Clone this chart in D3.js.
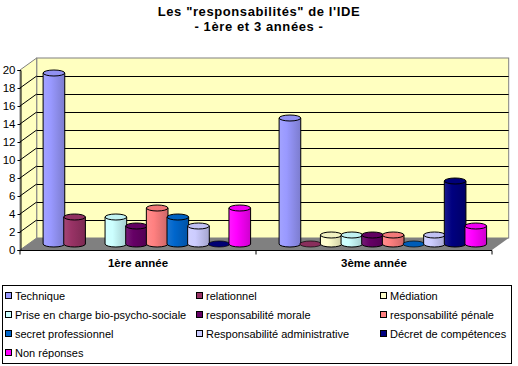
<!DOCTYPE html>
<html>
<head>
<meta charset="utf-8">
<script src="https://cdn.jsdelivr.net/npm/d3@7"></script>
<style>
  body { margin: 0; background: #fff; }
  text { font-family: Arial, "Liberation Sans", sans-serif; }
</style>
</head>
<body>
<div id="chart"></div>
<script>
// data
var groups = ["1ère année", "3ème année"];
var series = ["Technique", "relationnel", "Médiation", "Prise en charge bio-psycho-sociale",
  "responsabilité morale", "responsabilité pénale", "secret professionnel",
  "Responsabilité administrative", "Décret de compétences", "Non réponses"];
var colors = ["#9999FF", "#993366", "#FFFFCC", "#CCFFFF", "#660066",
  "#FF8080", "#0066CC", "#CCCCFF", "#000080", "#FF00FF"];
var values1ere = [19, 3, null, 3, 2, 4, 3, 2, 0, 4];
var values3eme = [14, 0, 1, 1, 1, 1, 0, 1, 7, 2];
var yTicks = [0, 2, 4, 6, 8, 10, 12, 14, 16, 18, 20];

var W = 518, H = 366;
var depthX = 16.7, depthY = -12;   // 3d depth of the plot
var plotLeft = 20, plotRight = 492, plotBottom = 250, plotTop = 70;

var svg = d3.select("#chart").append("svg")
    .attr("width", W)
    .attr("height", H);

// title
svg.append("text").attr("x", 259).attr("y", 16)
    .attr("text-anchor", "middle").attr("font-size", 13).attr("font-weight", "bold")
    .attr("letter-spacing", 0.6)
    .text('Les "responsabilités" de l\'IDE');
svg.append("text").attr("x", 259).attr("y", 31)
    .attr("text-anchor", "middle").attr("font-size", 13).attr("font-weight", "bold")
    .attr("letter-spacing", 0.6)
    .text("- 1ère et 3 années -");

var y = d3.scaleLinear().domain([0, 20]).range([plotBottom, plotTop]);
var x0 = d3.scaleBand().domain(groups).range([plotLeft, plotRight])
    .paddingInner(0.125).paddingOuter(0.0625);
var x1 = d3.scaleBand().domain(series).range([0, x0.bandwidth()]);

var wallFill = "#FFFFC0", edge = "#808080";

// back wall
svg.append("rect")
    .attr("x", plotLeft + depthX).attr("y", y(20) + depthY)
    .attr("width", plotRight - plotLeft).attr("height", y(0) - y(20))
    .attr("fill", wallFill).attr("stroke", edge);

// side wall
svg.append("polygon")
    .attr("points", [[plotLeft, y(20)], [plotLeft + depthX, y(20) + depthY],
      [plotLeft + depthX, y(0) + depthY], [plotLeft, y(0)]].join(" "))
    .attr("fill", wallFill).attr("stroke", edge);

// floor
svg.append("polygon")
    .attr("points", [[plotLeft, y(0)], [plotRight, y(0)], [plotRight + depthX, y(0) + depthY],
      [plotLeft + depthX, y(0) + depthY]].join(" "))
    .attr("fill", "#808080");

// gridlines
var grid = svg.append("g").attr("stroke", "#000").attr("stroke-width", 1);
yTicks.filter(function(t) { return t > 0 && t < 20; }).forEach(function(t) {
    var yy = Math.round(y(t) + depthY) + 0.5;
    grid.append("line")
        .attr("x1", plotLeft + depthX).attr("x2", plotRight + depthX)
        .attr("y1", yy).attr("y2", yy);
    grid.append("line")
        .attr("x1", plotLeft).attr("y1", y(t))
        .attr("x2", plotLeft + depthX).attr("y2", y(t) + depthY);
});

// gradients for the cylinders
var defs = svg.append("defs");
colors.forEach(function(c, i) {
    var g = defs.append("linearGradient").attr("id", "grad" + i)
        .attr("x1", "0%").attr("x2", "100%").attr("y1", "0%").attr("y2", "0%");
    g.append("stop").attr("offset", "0%").attr("stop-color", d3.interpolateRgb(c, "#fff")(0.1));
    g.append("stop").attr("offset", "35%").attr("stop-color", c);
    g.append("stop").attr("offset", "100%").attr("stop-color", d3.color(c).darker(0.6));
});

var data = [];
groups.forEach(function(g, gi) {
    var vals = gi === 0 ? values1ere : values3eme;
    series.forEach(function(s, si) {
        if (vals[si] !== null) data.push({group: g, series: s, i: si, value: vals[si]});
    });
});

// cylinders
var ry = 3;
var bars = svg.append("g");
data.forEach(function(d) {
    var bx = x0(d.group) + x1(d.series) + depthX / 2;
    var bw = x1.bandwidth() + 1;
    var rx = bw / 2;
    var yb = y(0) + depthY / 2;
    var yt = y(d.value) + depthY / 2;
    var c = colors[d.i];
    if (d.value === 0) {
        bars.append("ellipse")
            .attr("cx", bx + rx).attr("cy", yb).attr("rx", rx).attr("ry", ry)
            .attr("fill", d3.color(c).darker(0.3)).attr("stroke", "#000").attr("stroke-width", 0.7);
        return;
    }
    bars.append("path")
        .attr("d", "M" + bx + "," + yt + "L" + bx + "," + yb +
            "A" + rx + "," + ry + " 0 0 0 " + (bx + bw) + "," + yb +
            "L" + (bx + bw) + "," + yt + "Z")
        .attr("fill", "url(#grad" + d.i + ")")
        .attr("stroke", "#000").attr("stroke-width", 1);
    bars.append("ellipse")
        .attr("cx", bx + rx).attr("cy", yt).attr("rx", rx).attr("ry", ry)
        .attr("fill", d3.color(c).darker(0.15)).attr("stroke", "#000").attr("stroke-width", 1);
});

// y axis
var yAxis = svg.append("g")
    .attr("transform", "translate(" + (plotLeft + 0.5) + ",0)")
    .call(d3.axisLeft(y).tickValues(yTicks).tickSize(3).tickPadding(2));
yAxis.selectAll("text").attr("font-size", 11.5).attr("fill", "#000").style("font-family", "Arial, 'Liberation Sans', sans-serif");
yAxis.selectAll("line, path").attr("stroke", "#000");

// x axis
var xAxis = svg.append("g")
    .attr("transform", "translate(0," + (plotBottom + 0.5) + ")");
xAxis.append("line").attr("x1", plotLeft).attr("x2", plotRight).attr("stroke", "#000");
[plotLeft, plotLeft + (plotRight - plotLeft) / 2, plotRight].forEach(function(t) {
    xAxis.append("line").attr("x1", t).attr("x2", t).attr("y1", 0).attr("y2", 4).attr("stroke", "#000");
});
groups.forEach(function(g) {
    xAxis.append("text")
        .attr("x", x0(g) + x0.bandwidth() / 2).attr("y", 16)
        .attr("text-anchor", "middle").attr("font-size", 11.5).attr("font-weight", "bold")
        .text(g);
});

// legend
svg.append("rect").attr("x", 2.5).attr("y", 285.5).attr("width", 509).attr("height", 78)
    .attr("fill", "#fff").attr("stroke", "#000");
var colX = [5, 196, 380];
var legend = svg.append("g");
series.forEach(function(s, i) {
    var col = i % 3, row = Math.floor(i / 3);
    var lx = colX[col], ly = 296 + row * 19;
    legend.append("rect").attr("x", lx + 0.5).attr("y", ly - 3.5).attr("width", 6).attr("height", 6)
        .attr("fill", colors[i]).attr("stroke", "#000");
    legend.append("text").attr("x", lx + 10).attr("y", ly + 4)
        .attr("font-size", 11).text(s);
});
</script>
</body>
</html>
